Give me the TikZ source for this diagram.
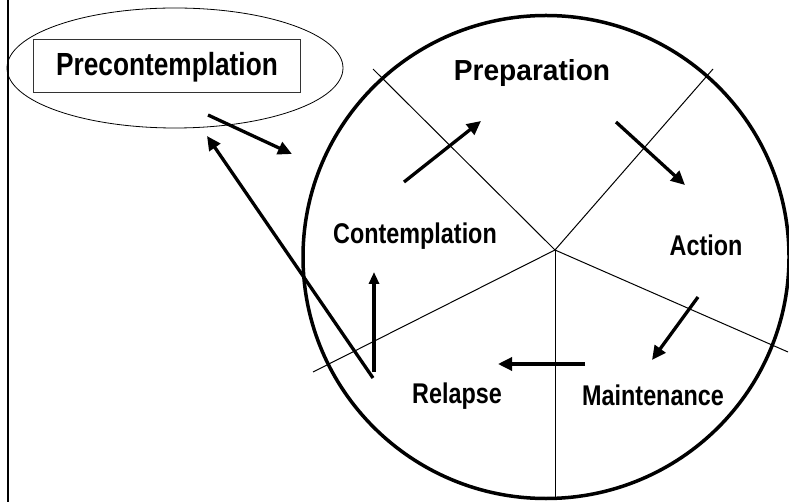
\documentclass[tikz,border=0pt]{standalone}
\usepackage{fontspec}
\setmainfont{Liberation Sans}
\newfontfamily\labelfont[FakeStretch=0.82]{Liberation Sans Bold}
\newfontfamily\widelabelfont[FakeStretch=0.97]{Liberation Sans Bold}
\usetikzlibrary{arrows.meta}
\tikzset{
  stage/.style={font=\labelfont\fontsize{28.5}{30}\selectfont, inner sep=0pt, anchor=center},
  bigstage/.style={stage, font=\labelfont\fontsize{32}{34}\selectfont},
  widestage/.style={stage, font=\widelabelfont\fontsize{29}{31}\selectfont},
  divider/.style={line width=1pt},
  flow/.style={line width=3.3pt, -{Triangle[length=14pt,width=13pt]}},
  slimflow/.style={line width=3.3pt, -{Triangle[length=12pt,width=10pt]}},
}
\begin{document}
\begin{tikzpicture}[x=1pt,y=-1pt]
\useasboundingbox (0,0) rectangle (789,502);
% left margin rule
\draw[line width=2.5pt] (8,0) -- (8,502);

% outer ellipse and box around the first stage
\draw[line width=0.8pt] (175,68) ellipse [x radius=168, y radius=60];
\draw[line width=0.8pt, draw=black!80] (33,39) rectangle (300,92);
\node[bigstage] (pre) at (167,67) {Precontemplation};

% the wheel
\coordinate (hub) at (555,250);
\draw[line width=3.5pt] (546,257) ellipse [x radius=243, y radius=241.5];
\coordinate (d1) at (373,69);
\coordinate (d2) at (713,69);
\coordinate (d3) at (313,372);
\coordinate (d4) at (788,352);
\coordinate (d5) at (555,499);
\foreach \d in {d1,d2,d3,d4,d5} \draw[divider] (hub) -- (\d);

% stage labels
\node[widestage] (prep) at (532,73) {Preparation};
\node[stage] (cont) at (415,236) {Contemplation};
\node[stage] (act) at (706,245) {Action};
\node[stage] (rel) at (457,396) {Relapse};
\node[stage] (main) at (653,395) {Maintenance};

% flow between the stages
\coordinate (a1s) at (208,115); \coordinate (a1e) at (292,154);
\coordinate (a2s) at (373,378); \coordinate (a2e) at (207,136);
\coordinate (a3s) at (374,372); \coordinate (a3e) at (374,272);
\coordinate (a4s) at (404,182); \coordinate (a4e) at (481,121);
\coordinate (a5s) at (616,122); \coordinate (a5e) at (685,185);
\coordinate (a6s) at (698,297); \coordinate (a6e) at (652,360);
\coordinate (a7s) at (585,364); \coordinate (a7e) at (498,364);
\draw[flow] (a1s) -- (a1e);
\draw[flow] (a2s) -- (a2e);
\draw[slimflow] (a3s) -- (a3e);
\draw[flow] (a4s) -- (a4e);
\draw[flow] (a5s) -- (a5e);
\draw[flow] (a6s) -- (a6e);
\draw[flow] (a7s) -- (a7e);
\end{tikzpicture}
\end{document}
